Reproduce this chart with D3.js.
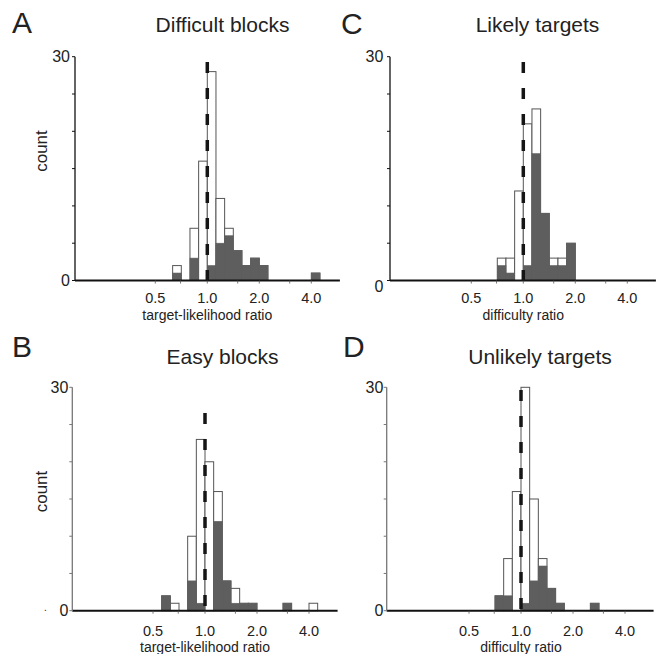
<!DOCTYPE html>
<html><head><meta charset="utf-8">
<script src="https://cdn.jsdelivr.net/npm/d3@7/dist/d3.min.js"></script>
<style>body{margin:0;background:#fff}svg{display:block}text{font-family:"Liberation Sans",Arial,Helvetica,sans-serif;fill:#222}</style>
</head><body><svg id="c" width="658" height="654"></svg>
<script>
// Histogram bins: bin k spans [2^(k/6), 2^((k+1)/6)]
const binIndex = [-5,-4,-3,-2,-1,0,1,2,3,4,5,6,7,8,9,10,11,12];
// Panel A: Difficult blocks (all cells / significant cells)
const countsA_all = [0,2,0,7,16,28,11,7,4,2,3,2,0,0,0,0,0,1];
const countsA_sig = [0,1,0,3,0,2,5,6,4,2,3,2,0,0,0,0,0,1];
// Panel B: Easy blocks
const countsB_all = [2,1,0,10,23,20,16,4,3,1,1,0,0,0,1,0,0,1];
const countsB_sig = [2,0,0,4,1,0,12,4,1,1,1,0,0,0,1,0,0,0];
// Panel C: Likely targets
const countsC_all = [0,0,3,3,12,21,23,9,3,3,5,0,0,0,0,0,0,0];
const countsC_sig = [0,0,2,1,0,2,17,9,2,2,5,0,0,0,0,0,0,0];
// Panel D: Unlikely targets
const countsD_all = [0,0,2,7,16,30,15,7,3,1,0,0,0,1,0,0,0,0];
const countsD_sig = [0,0,2,2,0,1,4,6,3,1,0,0,0,1,0,0,0,0];
const xTickValues = [0.5,0.7,1,1.5,2,3,4];
const xTickLabels = ["0.5","1.0","2.0","4.0"];
const xTickLabelValues = [0.5,1,2,4];
const yTickValues = [0,5,10,15,20,25,30];
const titles = ["Difficult blocks","Easy blocks","Likely targets","Unlikely targets"];
const letters = ["A","B","C","D"];
const xLabels = ["target-likelihood ratio","target-likelihood ratio","difficulty ratio","difficulty ratio"];

const panels = [
  {all:countsA_all, sig:countsA_sig, yAxisX:75, c:207.3, y0:280.5, y30:56.7, dashTop:62, axCol:"#111",
   letterX:12, letterY:33, titleX:222.5, titleY:31.5, tickLY:302.5, labY:320, y0LabDy:5.5, yLabX:70, countLabel:true, countY:151},
  {all:countsB_all, sig:countsB_sig, yAxisX:72.3, c:205, y0:610.7, y30:387.3, dashTop:413, axCol:"#777",
   letterX:12, letterY:357, titleX:222.5, titleY:363.5, tickLY:636, labY:652, y0LabDy:5.5, yLabX:68.3, countLabel:true, countY:491.5},
  {all:countsC_all, sig:countsC_sig, yAxisX:390, c:523.3, y0:280.5, y30:56.7, dashTop:62, axCol:"#111",
   letterX:341, letterY:34, titleX:537.5, titleY:31.5, tickLY:302.5, labY:319.5, y0LabDy:11.5, yLabX:383.3, countLabel:false},
  {all:countsD_all, sig:countsD_sig, yAxisX:386.7, c:521, y0:610.7, y30:387.3, dashTop:390, axCol:"#777",
   letterX:343, letterY:357, titleX:540, titleY:363.5, tickLY:636, labY:652, y0LabDy:5.5, yLabX:383.3, countLabel:false}
];

const svg = d3.select("#c");
const halfSpan = 2.55, octPx = 52;

panels.forEach((p,i)=>{
  const g = svg.append("g");
  const x = d3.scaleLog().base(2)
    .domain([Math.pow(2,-halfSpan), Math.pow(2,halfSpan)])
    .range([p.c - halfSpan*octPx, p.c + halfSpan*octPx]);
  const y = d3.scaleLinear().domain([0,30]).range([p.y0, p.y30]);
  const bins = binIndex.map((k,j)=>({lo:Math.pow(2,k/6), hi:Math.pow(2,(k+1)/6), all:p.all[j], sig:p.sig[j]}));

  // white (all) bars
  g.selectAll("rect.all").data(bins.filter(b=>b.all>0)).join("rect")
    .attr("x",b=>x(b.lo)).attr("width",b=>x(b.hi)-x(b.lo))
    .attr("y",b=>y(b.all)).attr("height",b=>y(0)-y(b.all))
    .attr("fill","#fff").attr("stroke","#555").attr("stroke-width",1);
  // gray (significant) bars
  g.selectAll("rect.sig").data(bins.filter(b=>b.sig>0)).join("rect")
    .attr("x",b=>x(b.lo)).attr("width",b=>x(b.hi)-x(b.lo))
    .attr("y",b=>y(b.sig)).attr("height",b=>y(0)-y(b.sig))
    .attr("fill","#5e5e5e").attr("stroke","#5e5e5e").attr("stroke-width",0.6);

  // x axis line + ticks
  const xEnd = x.range()[1];
  g.append("line").attr("x1",p.yAxisX).attr("x2",xEnd).attr("y1",p.y0).attr("y2",p.y0)
    .attr("stroke","#111").attr("stroke-width",2);
  g.selectAll("line.xt").data(xTickValues).join("line")
    .attr("x1",d=>x(d)).attr("x2",d=>x(d)).attr("y1",p.y0).attr("y2",p.y0+3)
    .attr("stroke","#555").attr("stroke-width",0.8);
  g.selectAll("text.xtl").data(xTickLabelValues).join("text")
    .attr("x",d=>x(d)).attr("y",p.tickLY).attr("text-anchor","middle")
    .attr("font-size",14.5).text((d,j)=>xTickLabels[j]);
  g.append("text").attr("x",p.c).attr("y",p.labY).attr("text-anchor","middle")
    .attr("font-size",14).text(xLabels[i]);

  // y axis
  g.append("line").attr("x1",p.yAxisX).attr("x2",p.yAxisX).attr("y1",p.y0).attr("y2",p.y30)
    .attr("stroke",p.axCol).attr("stroke-width",1.3);
  g.selectAll("line.yt").data(yTickValues).join("line")
    .attr("x1",p.yAxisX-3).attr("x2",p.yAxisX).attr("y1",d=>y(d)).attr("y2",d=>y(d))
    .attr("stroke",p.axCol).attr("stroke-width",1);
  g.append("text").attr("x",p.yLabX).attr("y",y(30)+5.5).attr("text-anchor","end")
    .attr("font-size",16).text("30");
  g.append("text").attr("x",p.yLabX).attr("y",y(0)+p.y0LabDy).attr("text-anchor","end")
    .attr("font-size",16).text("0");
  if(p.countLabel){
    g.append("text").attr("transform",`translate(46.5,${p.countY}) rotate(-90)`)
      .attr("text-anchor","middle").attr("font-size",17).text("count");
  }

  // dashed reference line at ratio 1.0
  g.append("line").attr("x1",x(1)).attr("x2",x(1)).attr("y1",p.dashTop).attr("y2",p.y0)
    .attr("stroke","#151515").attr("stroke-width",3.5).attr("stroke-dasharray","11,15");

  // title and letter
  g.append("text").attr("x",p.titleX).attr("y",p.titleY).attr("text-anchor","middle")
    .attr("font-size",21).text(titles[i]);
  g.append("text").attr("x",p.letterX).attr("y",p.letterY).attr("font-size",30).text(letters[i]);
});
// stray mark near panel B origin
svg.append("text").attr("x",44).attr("y",611).attr("font-size",10).text(".");
</script></body></html>
